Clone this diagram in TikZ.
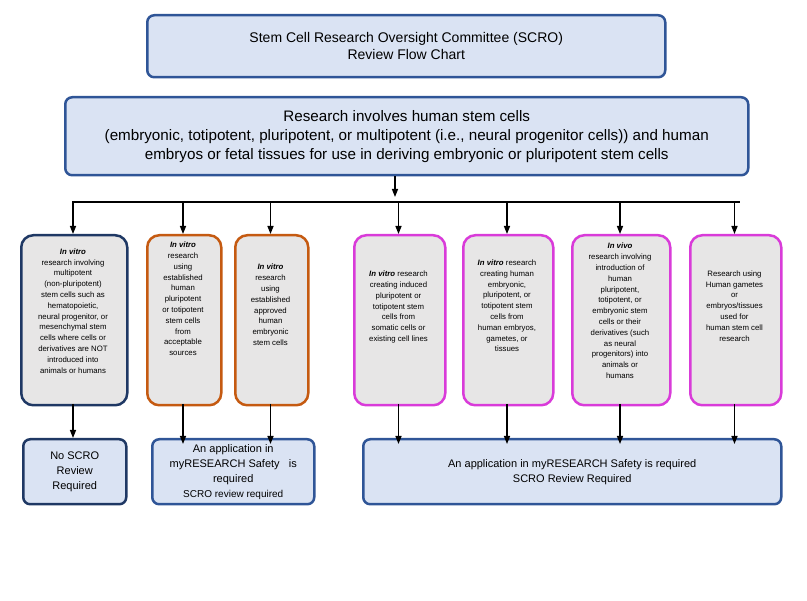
\documentclass[tikz,border=0pt]{standalone}
\usepackage{fontspec}
\setmainfont{Liberation Sans}
\usetikzlibrary{arrows.meta}
\definecolor{bfill}{HTML}{DAE3F3}
\definecolor{bdraw}{HTML}{2F5597}
\definecolor{navy}{HTML}{1F3864}
\definecolor{orng}{HTML}{C55A11}
\definecolor{mag}{HTML}{D93BD9}
\definecolor{gfill}{HTML}{E7E6E6}
\tikzset{
 bluebox/.style={draw=bdraw,fill=bfill,line width=2.5pt,rounded corners=7pt,align=center},
 catbox/.style={fill=gfill,line width=2.5pt,rounded corners=12pt},
 cattext/.style={align=center,font=\fontsize{7.8}{10.8}\selectfont,inner sep=0pt},
 arr/.style={-{Triangle[length=8pt,width=6pt]},line width=1.4pt},
 ln/.style={line width=1.4pt}
}
\newcommand{\bx}[6]{%
\node[catbox,draw=#5,minimum width=#2pt-#1pt,minimum height=170pt,anchor=north west] (#6) at (#1pt,-234pt) {};
\node[cattext] (#6x) at ({(#1+#2)/2*1pt},-#3pt) {#4};
\coordinate (#6t) at ({(#1+#2)/2*1pt},-234pt);
\coordinate (#6b) at ({(#1+#2)/2*1pt},-404pt);}
\begin{document}
\begin{tikzpicture}[x=1pt,y=1pt]
\useasboundingbox (0,0) rectangle (807,-601);
\node[bluebox,minimum width=518pt,minimum height=62pt,anchor=north west,font=\fontsize{14}{17}\selectfont] (title) at (146,-14) {Stem Cell Research Oversight Committee (SCRO)\\Review Flow Chart};
\node[bluebox,minimum width=683pt,minimum height=78pt,anchor=north west,font=\fontsize{15.2}{19}\selectfont] (big) at (64,-96) {Research involves human stem cells\\(embryonic, totipotent, pluripotent, or multipotent (i.e., neural progenitor cells)) and human\\embryos or fetal tissues for use in deriving embryonic or pluripotent stem cells};
\bx{20}{126}{311}{\textbf{\textit{In vitro}}\\research involving\\multipotent\\(non-pluripotent)\\stem cells such as\\hematopoietic,\\neural progenitor, or\\mesenchymal stem\\cells where cells or\\derivatives are NOT\\introduced into\\animals or humans}{navy}{c1}
\bx{146}{220}{299}{\textbf{\textit{In vitro}}\\research\\using\\established\\human\\pluripotent\\or totipotent\\stem cells\\from\\acceptable\\sources}{orng}{c2}
\bx{234}{307}{305}{\textbf{\textit{In vitro}}\\research\\using\\established\\approved\\human\\embryonic\\stem cells}{orng}{c3}
\bx{353}{444}{307}{\textbf{\textit{In vitro}} research\\creating induced\\pluripotent or\\totipotent stem\\cells from\\somatic cells or\\existing cell lines}{mag}{c4}
\bx{462}{552}{306}{\textbf{\textit{In vitro}} research\\creating human\\embryonic,\\pluripotent, or\\totipotent stem\\cells from\\human embryos,\\gametes, or\\tissues}{mag}{c5}
\bx{571}{669}{311}{\textbf{\textit{In vivo}}\\research involving\\introduction of\\human\\pluripotent,\\totipotent, or\\embryonic stem\\cells or their\\derivatives (such\\as neural\\progenitors) into\\animals or\\humans}{mag}{c6}
\bx{689}{780}{306}{Research using\\Human gametes\\or\\embryos/tissues\\used for\\human stem cell\\research}{mag}{c7}
\node[bluebox,draw=navy,minimum width=103pt,minimum height=65pt,anchor=north west,font=\fontsize{11}{15}\selectfont] (o1) at (22,-438) {No SCRO\\Review\\Required};
\node[bluebox,minimum width=162pt,minimum height=65pt,anchor=north west,font=\fontsize{11}{15}\selectfont] (o2) at (151,-438) {An application in\\myRESEARCH Safety\ \ \ is\\required\\{\fontsize{10}{11}\selectfont SCRO review required}};
\node[bluebox,minimum width=418pt,minimum height=65pt,anchor=north west,font=\fontsize{11}{15}\selectfont] (o3) at (362,-438) {An application in myRESEARCH Safety is required\\SCRO Review Required};
\coordinate (j) at (395,-202);
\draw[arr] (big.south -| j) -- (395,-197);
\draw[ln] (72,-202) -- (740,-202);
\foreach \c in {c1,c2,c3,c4,c5,c6,c7}{\draw[arr] (j -| \c t) -- (\c t);}
\draw[arr] (c1b) -- (c1b |- o1.north);
\foreach \c in {c2,c3}{\draw[arr] (\c b) -- ([yshift=-6pt]\c b |- o2.north);}
\foreach \c in {c4,c5,c6,c7}{\draw[arr] (\c b) -- ([yshift=-6pt]\c b |- o3.north);}
\end{tikzpicture}
\end{document}
